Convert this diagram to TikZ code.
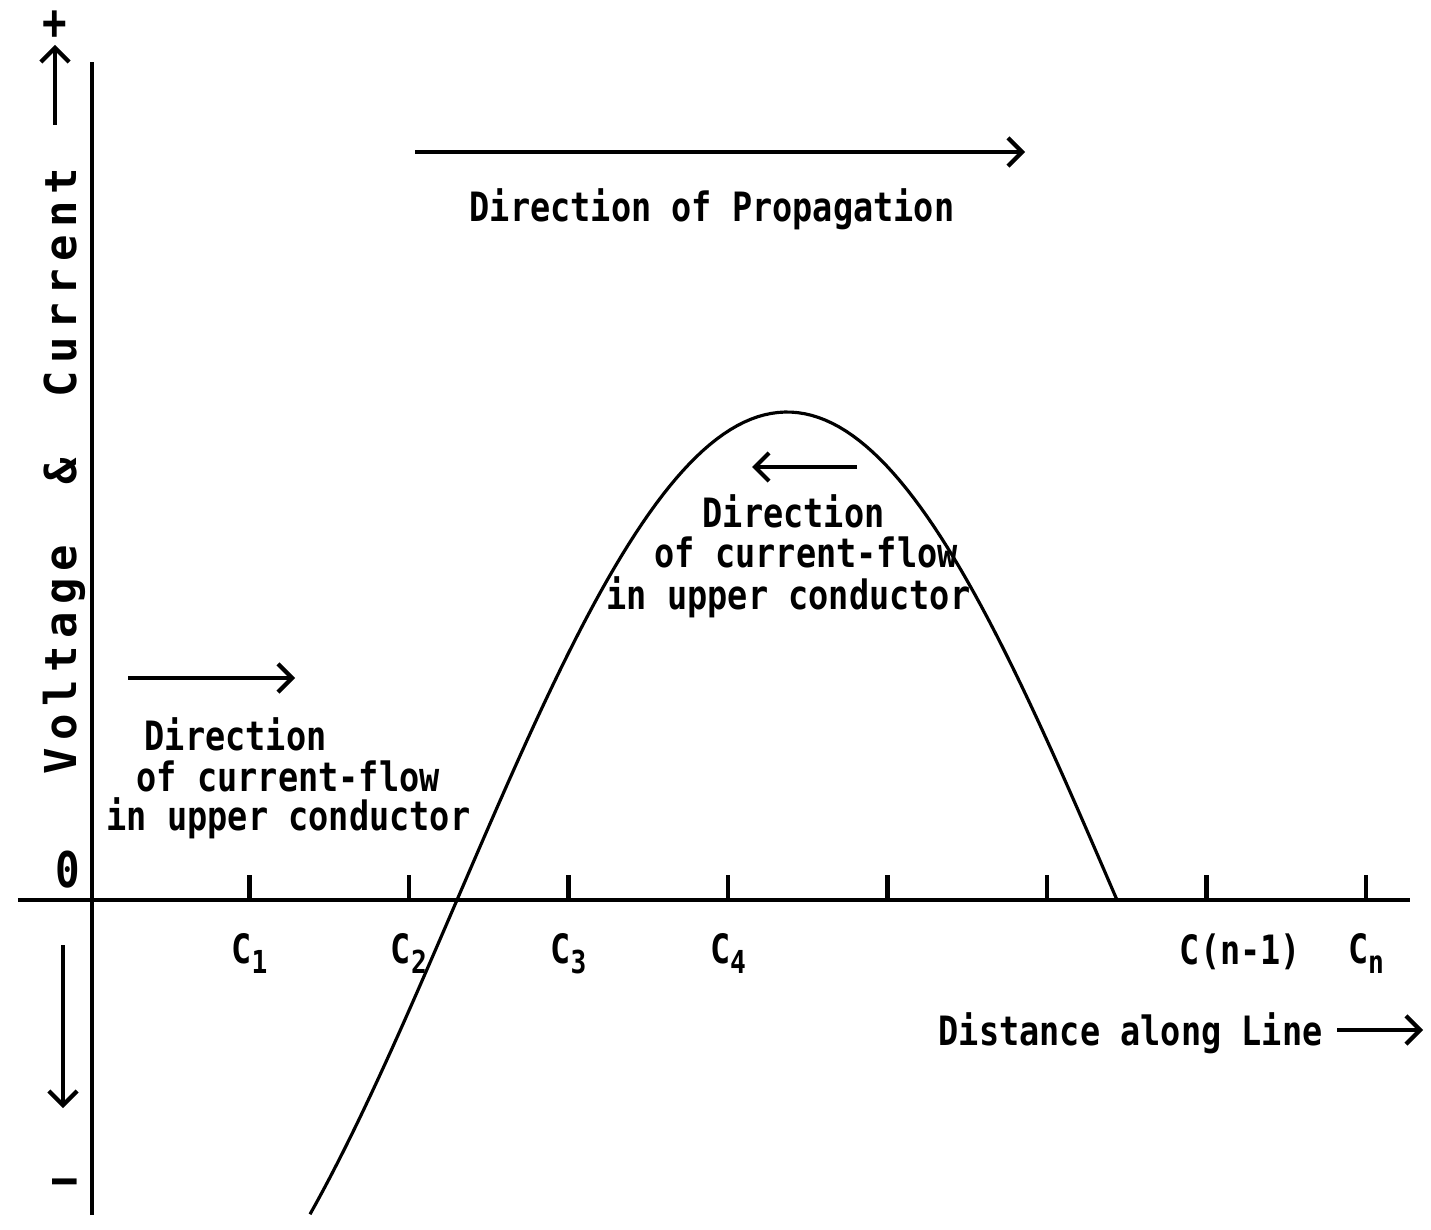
\documentclass[tikz,border=0pt]{standalone}
\usepackage{fontspec}
\usepackage{tikz}
\usetikzlibrary{arrows.meta, positioning}
\newfontfamily\labelfont{DejaVu Sans Mono}[FakeStretch=0.83]
\newfontfamily\axisfont{DejaVu Sans Mono}[LetterSpace=17]
\newcommand{\csub}[1]{C\raisebox{-0.45ex}{\fontsize{9}{10}\selectfont #1}}

\tikzset{
  axis/.style={line width=1.3pt},
  wave/.style={line width=0.9pt},
  dirarrow/.style={line width=1.2pt, -{Straight Barb[length=4pt,width=8pt]}},
  lbl/.style={font=\labelfont\bfseries\fontsize{11.5}{14}\selectfont, inner sep=0pt},
  sign/.style={font=\labelfont\bfseries\fontsize{14}{16}\selectfont, inner sep=0pt},
  axislbl/.style={font=\axisfont\bfseries\fontsize{12.5}{15}\selectfont, inner sep=0pt}
}

\begin{document}
\begin{tikzpicture}
\useasboundingbox (-0.92,-3.29) rectangle (13.39,9.00);

% Axes
\coordinate (O) at (0,0);
\coordinate (ytop) at (0,8.38);
\coordinate (ybot) at (0,-3.15);
\coordinate (xleft) at (-0.74,0);
\coordinate (xright) at (13.18,0);
\draw[axis] (ybot) -- (ytop);
\draw[axis] (xleft) -- (xright);

% Ticks for the capacitances
\foreach \i in {1,...,8}{
  \coordinate (t\i) at ({1.595*\i-0.02},0);
  \draw[axis] (t\i) -- ++(0,0.25);
}
\node[lbl, below=0.33 of t1] (c1) {\csub{1}};
\node[lbl, below=0.33 of t2] (c2) {\csub{2}};
\node[lbl, below=0.33 of t3] (c3) {\csub{3}};
\node[lbl, below=0.33 of t4] (c4) {\csub{4}};
\node[lbl, below=0.33 of t7, xshift=0.34cm] (cn1) {C(n-1)};
\node[lbl, below=0.33 of t8] (cn) {\csub{n}};

% Voltage axis labels
\node[sign] (plus) at (-0.37,8.75) {+};
\node[sign] (zero) at (-0.24,0.30) {0};
\node[sign] (minus) at (-0.27,-2.87) {\textendash};
\coordinate (upA) at (-0.37,7.75);
\coordinate (upB) at (-0.37,8.55);
\draw[dirarrow] (upA) -- (upB);
\coordinate (dnA) at (-0.29,-0.45);
\coordinate (dnB) at (-0.29,-2.08);
\draw[dirarrow] (dnA) -- (dnB);
\node[axislbl, rotate=90] (vlabel) at (-0.28,4.29) {Voltage\hspace{0.6em} \&\hspace{0.6em} Current};

% Travelling wave
\draw[wave] plot[domain=2.18:10.25, samples=120] (\x,{4.88*sin(180*(\x-3.65)/6.6)});

% Direction of propagation
\coordinate (propA) at (3.23,7.48);
\coordinate (propB) at (9.33,7.48);
\draw[dirarrow] (propA) -- (propB);
\node[lbl, anchor=base] (prop) at (6.20,6.78) {Direction of Propagation};

% Current flow, left
\coordinate (leftA) at (0.36,2.22);
\coordinate (leftB) at (2.03,2.22);
\draw[dirarrow] (leftA) -- (leftB);
\node[lbl, anchor=base west] (left1) at (0.52,1.50) {Direction};
\node[lbl, anchor=base west] (left2) at (0.44,1.08) {of current-flow};
\node[lbl, anchor=base west] (left3) at (0.14,0.70) {in upper conductor};

% Current flow, under the crest
\coordinate (midA) at (7.65,4.33);
\coordinate (midB) at (6.60,4.33);
\draw[dirarrow] (midA) -- (midB);
\node[lbl, anchor=base west] (mid1) at (6.10,3.72) {Direction};
\node[lbl, anchor=base west] (mid2) at (5.62,3.32) {of current-flow};
\node[lbl, anchor=base west] (mid3) at (5.14,2.90) {in upper conductor};

% Distance axis label
\node[lbl, anchor=base west] (dist) at (8.46,-1.45) {Distance along Line};
\coordinate (distA) at (12.45,-1.30);
\coordinate (distB) at (13.31,-1.30);
\draw[dirarrow] (distA) -- (distB);
\end{tikzpicture}
\end{document}
